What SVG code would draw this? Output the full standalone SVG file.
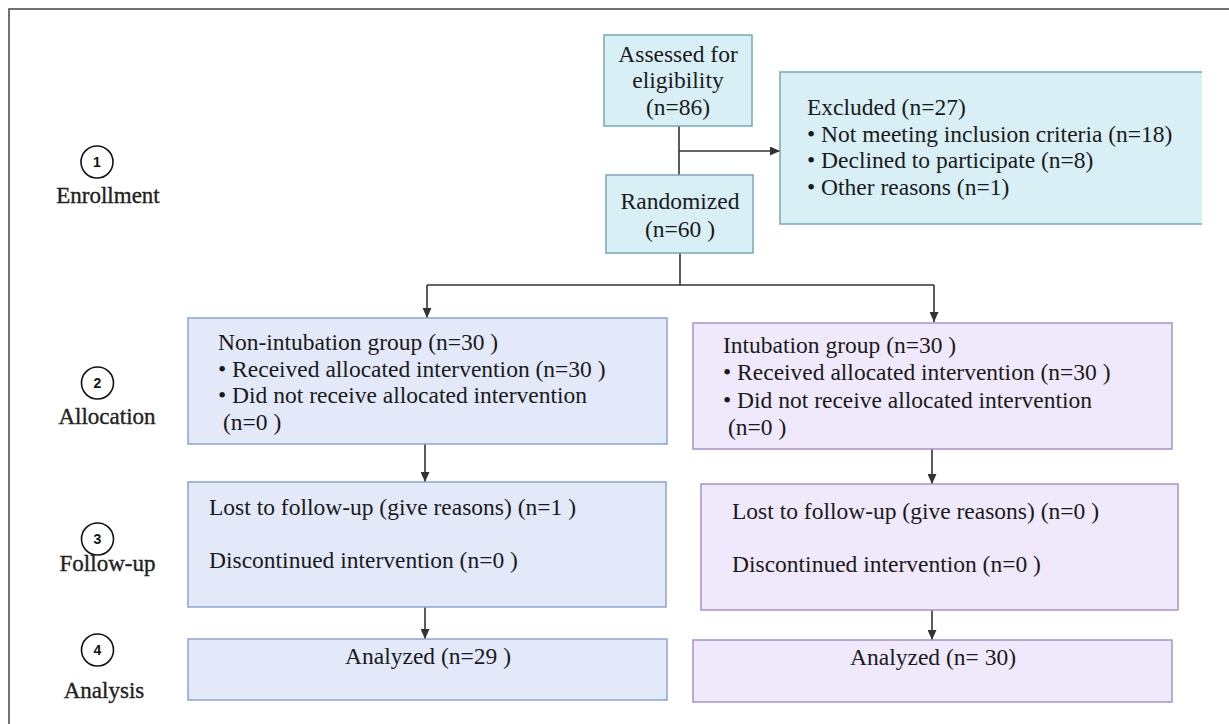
<svg xmlns="http://www.w3.org/2000/svg" width="1229" height="724" viewBox="0 0 1229 724">
<style>
.t{font-family:"Liberation Serif","Times New Roman",serif;font-size:23.5px;fill:#1a1a1a}
.c{text-anchor:middle}
.lab{font-family:"Liberation Serif","Times New Roman",serif;font-size:23px;fill:#222;stroke:#222;stroke-width:0.35;text-anchor:middle}
.num{font-family:"Liberation Sans",Arial,sans-serif;font-size:14px;font-weight:bold;fill:#111;text-anchor:middle}
.circ{fill:#fff;stroke:#111;stroke-width:1.6}
.cy{fill:#d8eff5;stroke:#74a9ba;stroke-width:1.5}
.bl{fill:#e3e9f9;stroke:#8ea2d4;stroke-width:1.5}
.pu{fill:#efe9fb;stroke:#a890cc;stroke-width:1.5}
.ln{fill:none;stroke:#333;stroke-width:1.6}
.ar{fill:none;stroke:#333;stroke-width:1.6;marker-end:url(#ah)}
</style>
<defs>
<marker id="ah" markerUnits="userSpaceOnUse" markerWidth="10" markerHeight="9" refX="10" refY="4.5" orient="auto" viewBox="0 0 10 9">
<path d="M0,0 L10,4.5 L0,9 z" fill="#333"/>
</marker>
</defs>
<rect x="0" y="0" width="1229" height="724" fill="#fff"/>
<path d="M9,724 L9,9 L1229,9" fill="none" stroke="#444" stroke-width="1.5"/>

<g id="labels">
<g id="stage1"><circle class="circ" cx="97" cy="162" r="16"/><text class="num" x="97" y="167">1</text><text class="lab" x="108" y="203">Enrollment</text></g>
<g id="stage2"><circle class="circ" cx="97.5" cy="383" r="16"/><text class="num" x="97.5" y="388">2</text><text class="lab" x="107" y="424">Allocation</text></g>
<g id="stage3"><circle class="circ" cx="97.5" cy="539" r="16"/><text class="num" x="97.5" y="544">3</text><text class="lab" x="107.5" y="571">Follow-up</text></g>
<g id="stage4"><circle class="circ" cx="97.5" cy="650" r="16"/><text class="num" x="97.5" y="655">4</text><text class="lab" x="104" y="698">Analysis</text></g>
</g>

<g id="connectors">
<path class="ln" d="M679,126 L679,175"/>
<path class="ar" d="M679,151 L780,151"/>
<path class="ln" d="M680,253 L680,285"/>
<path class="ln" d="M427,285 L934,285"/>
<path class="ar" d="M427,285 L427,318"/>
<path class="ar" d="M934,285 L934,322"/>
<path class="ar" d="M425,444 L425,482"/>
<path class="ar" d="M425,607 L425,639"/>
<path class="ar" d="M932,449 L932,484"/>
<path class="ar" d="M932,610 L932,640"/>
</g>

<g id="assessed">
<rect class="cy" x="604" y="35" width="148" height="91"/>
<text class="t c" x="678" y="62">Assessed for</text>
<text class="t c" x="678" y="88">eligibility</text>
<text class="t c" x="678" y="115">(n=86)</text>
</g>

<g id="excluded">
<rect x="780" y="72" width="422" height="152" fill="#d8eff5"/>
<path d="M1202,72 L780,72 L780,224 L1202,224" fill="none" stroke="#74a9ba" stroke-width="1.5"/>
<text class="t" x="807" y="115">Excluded (n=27)</text>
<text class="t" x="807" y="142">• Not meeting inclusion criteria (n=18)</text>
<text class="t" x="807" y="168">• Declined to participate (n=8)</text>
<text class="t" x="807" y="195">• Other reasons (n=1)</text>
</g>

<g id="randomized">
<rect class="cy" x="606" y="175" width="147" height="78"/>
<text class="t c" x="680" y="209">Randomized</text>
<text class="t c" x="680" y="237">(n=60 )</text>
</g>

<g id="nonintubation">
<rect class="bl" x="188" y="318" width="479" height="126"/>
<text class="t" x="218" y="350">Non-intubation group (n=30 )</text>
<text class="t" x="218" y="377">• Received allocated intervention (n=30 )</text>
<text class="t" x="218" y="403">• Did not receive allocated intervention</text>
<text class="t" x="223" y="430">(n=0 )</text>
</g>

<g id="intubation">
<rect class="pu" x="693" y="323" width="479" height="126"/>
<text class="t" x="723" y="353">Intubation group (n=30 )</text>
<text class="t" x="723" y="380">• Received allocated intervention (n=30 )</text>
<text class="t" x="723" y="408">• Did not receive allocated intervention</text>
<text class="t" x="728" y="435">(n=0 )</text>
</g>

<g id="followup-left">
<rect class="bl" x="188" y="482" width="478" height="125"/>
<text class="t" x="209" y="515">Lost to follow-up (give reasons) (n=1 )</text>
<text class="t" x="209" y="568">Discontinued intervention (n=0 )</text>
</g>

<g id="followup-right">
<rect class="pu" x="701" y="484" width="477" height="126"/>
<text class="t" x="732" y="519">Lost to follow-up (give reasons) (n=0 )</text>
<text class="t" x="732" y="572">Discontinued intervention (n=0 )</text>
</g>

<g id="analyzed-left">
<rect class="bl" x="188" y="639" width="479" height="61"/>
<text class="t c" x="428" y="664">Analyzed (n=29 )</text>
</g>

<g id="analyzed-right">
<rect class="pu" x="693" y="640" width="479" height="62"/>
<text class="t c" x="933" y="665">Analyzed (n= 30)</text>
</g>
</svg>
